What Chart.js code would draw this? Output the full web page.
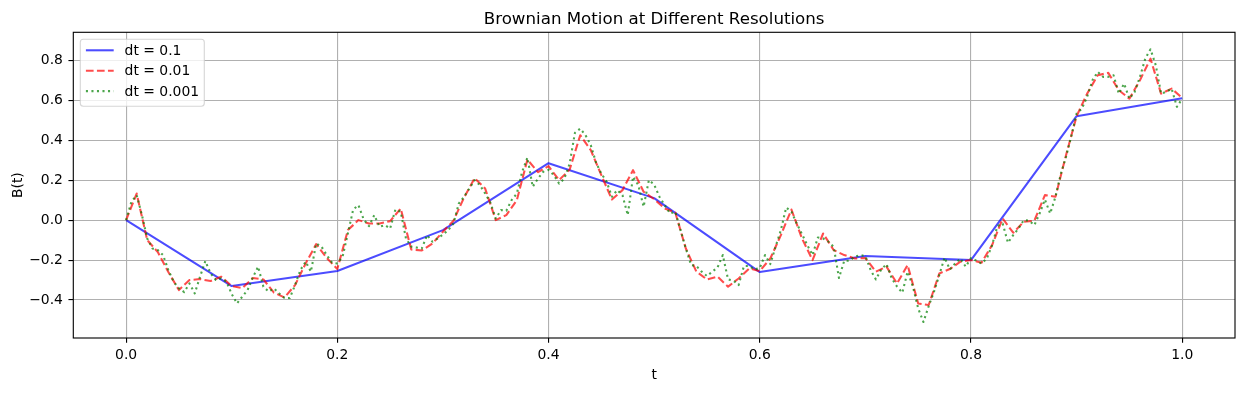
<!DOCTYPE html>
<html><head><meta charset="utf-8">
<script src="https://cdn.jsdelivr.net/npm/chart.js@4.4.1/dist/chart.umd.min.js"></script>
<style>html,body{margin:0;padding:0;background:#fff;}canvas{display:block;}</style>
</head><body>
<canvas id="c" width="1245" height="393"></canvas>
<script>
// ---- text ----
const chartTitle = 'Brownian Motion at Different Resolutions';
const xAxisLabel = 't';
const yAxisLabel = 'B(t)';
const seriesNames = ['dt = 0.1', 'dt = 0.01', 'dt = 0.001'];

// ---- ticks ----
const xTickValues = [0, 0.2, 0.4, 0.6, 0.8, 1.0];
const xTickLabels = ['0.0', '0.2', '0.4', '0.6', '0.8', '1.0'];
const yTickValues = [-0.4, -0.2, 0, 0.2, 0.4, 0.6, 0.8];
const yTickLabels = ['\u22120.4', '\u22120.2', '0.0', '0.2', '0.4', '0.6', '0.8'];
const xRange = [-0.05, 1.05];
const yRange = [-0.59, 0.94];

// ---- series ----
const blueStep = 0.1;
const blueB = [0, -0.33, -0.255, -0.05, 0.285, 0.11, -0.26, -0.18, -0.20, 0.52, 0.61];

const redStep = 0.01;
const redB = [
  0, 0.133, -0.10, -0.16, -0.26, -0.35, -0.30, -0.295, -0.305, -0.283,
  -0.33, -0.34, -0.29, -0.297, -0.363, -0.387, -0.325, -0.217, -0.12, -0.19,
  -0.245, -0.05, 0.0, -0.017, -0.017, -0.005, 0.058, -0.147, -0.152, -0.117,
  -0.058, -0.003, 0.113, 0.21, 0.158, 0.0, 0.025, 0.10, 0.303, 0.24,
  0.27, 0.20, 0.253, 0.425, 0.35, 0.225, 0.103, 0.15, 0.25, 0.142,
  0.105, 0.058, 0.038, -0.142, -0.258, -0.297, -0.283, -0.333, -0.292, -0.242,
  -0.255, -0.192, -0.075, 0.053, -0.092, -0.20, -0.067, -0.15, -0.175, -0.192,
  -0.19, -0.258, -0.233, -0.317, -0.225, -0.417, -0.425, -0.267, -0.245, -0.208,
  -0.20, -0.213, -0.125, 0.008, -0.063, -0.008, -0.003, 0.125, 0.117, 0.325,
  0.52, 0.633, 0.725, 0.737, 0.65, 0.608, 0.70, 0.808, 0.633, 0.658,
  0.612
];

// fine series, every 0.005 in t
const greenReadStep = 0.005;
const greenB = [
  0, 0.092, 0.125, 0.025, -0.092, -0.142, -0.15, -0.175, -0.25, -0.308, -0.342, -0.36, -0.317, -0.367, -0.283, -0.205, -0.267, -0.30, -0.292, -0.308,
  -0.37, -0.417, -0.383, -0.35, -0.287, -0.233, -0.333, -0.358, -0.342, -0.367, -0.39, -0.39, -0.325, -0.25, -0.208, -0.258, -0.117, -0.133, -0.175, -0.213,
  -0.217, -0.183, -0.067, 0.053, 0.075, 0.003, -0.03, 0.025, -0.033, -0.025, -0.042, 0.053, 0.042, -0.092, -0.133, -0.137, -0.142, -0.075, -0.108, -0.092,
  -0.072, -0.05, -0.017, 0.083, 0.117, 0.158, 0.2, 0.175, 0.133, 0.087, 0.008, 0.05, 0.047, 0.1, 0.133, 0.242, 0.313, 0.167, 0.208, 0.242,
  0.252, 0.225, 0.183, 0.208, 0.283, 0.437, 0.458, 0.425, 0.375, 0.287, 0.233, 0.192, 0.117, 0.15, 0.125, 0.025, 0.217, 0.175, 0.067, 0.2,
  0.178, 0.117, 0.075, 0.033, 0.042, -0.05, -0.142, -0.225, -0.23, -0.258, -0.28, -0.258, -0.237, -0.175, -0.297, -0.303, -0.325, -0.23, -0.23, -0.247,
  -0.24, -0.175, -0.22, -0.133, -0.05, 0.063, 0.042, -0.017, -0.07, -0.125, -0.175, -0.087, -0.092, -0.108, -0.133, -0.29, -0.203, -0.203, -0.183, -0.175,
  -0.18, -0.25, -0.297, -0.247, -0.22, -0.292, -0.333, -0.363, -0.258, -0.333, -0.442, -0.51, -0.43, -0.358, -0.275, -0.187, -0.247, -0.217, -0.192, -0.233,
  -0.19, -0.203, -0.217, -0.192, -0.125, -0.03, -0.017, -0.113, -0.075, -0.042, 0.0, -0.003, -0.025, 0.033, 0.103, 0.033, 0.117, 0.23, 0.317, 0.42,
  0.533, 0.558, 0.617, 0.70, 0.742, 0.717, 0.717, 0.725, 0.633, 0.683, 0.608, 0.642, 0.717, 0.808, 0.855, 0.775, 0.633, 0.642, 0.658, 0.567,
  0.608
];

// ---- styles ----
const seriesColors = ['rgba(0,0,255,0.7)', 'rgba(255,0,0,0.7)', 'rgba(0,128,0,0.7)'];
const LW = 2.08;
const seriesDashes = [[], [7.7, 3.33], [2.08, 3.44]];
const FONT = 'DejaVu Sans';
const FS = 13.9;

const toPts = (arr, step) => arr.map((b, i) => ({x: +(i * step).toFixed(4), y: b}));
const seriesData = [toPts(blueB, blueStep), toPts(redB, redStep), toPts(greenB, greenReadStep)];

const overlay = {
  id: 'overlay',
  afterDatasetsDraw(chart) {
    const {ctx, chartArea: a} = chart;
    ctx.save();
    // spines
    ctx.strokeStyle = '#000';
    ctx.lineWidth = 1.11;
    ctx.strokeRect(a.left, a.top, a.right - a.left, a.bottom - a.top);
    // legend
    const lx = a.left + 7, ly = a.top + 7, lw = 124, lh = 67;
    ctx.beginPath();
    ctx.roundRect(lx, ly, lw, lh, 3);
    ctx.fillStyle = 'rgba(255,255,255,0.8)';
    ctx.fill();
    ctx.strokeStyle = 'rgba(204,204,204,0.8)';
    ctx.lineWidth = 1.11;
    ctx.stroke();
    ctx.font = FS + 'px "' + FONT + '"';
    ctx.textBaseline = 'middle';
    ctx.textAlign = 'left';
    seriesNames.forEach((name, i) => {
      const cy = ly + 11 + i * 20.4;
      ctx.beginPath();
      ctx.setLineDash(seriesDashes[i]);
      ctx.strokeStyle = seriesColors[i];
      ctx.lineWidth = LW;
      ctx.moveTo(lx + 5.6, cy);
      ctx.lineTo(lx + 33.4, cy);
      ctx.stroke();
      ctx.setLineDash([]);
      ctx.fillStyle = '#000';
      ctx.fillText(name, lx + 44.3, cy + 1);
    });
    ctx.restore();
  },
  afterDraw(chart) {
    const {ctx, chartArea: a} = chart;
    ctx.save();
    ctx.fillStyle = '#000';
    ctx.textAlign = 'center';
    ctx.font = '16.67px "' + FONT + '"';
    ctx.textBaseline = 'alphabetic';
    ctx.fillText(chartTitle, (a.left + a.right) / 2, a.top - 8.3);
    ctx.font = FS + 'px "' + FONT + '"';
    ctx.textBaseline = 'top';
    ctx.fillText(xAxisLabel, (a.left + a.right) / 2, 368);
    ctx.translate(18, (a.top + a.bottom) / 2);
    ctx.rotate(-Math.PI / 2);
    ctx.textBaseline = 'middle';
    ctx.fillText(yAxisLabel, 0, 0);
    ctx.restore();
  }
};

Chart.defaults.font.family = FONT;
Chart.defaults.font.size = FS;
Chart.defaults.color = '#000';

const gridOpts = {color: '#b0b0b0', lineWidth: 1.11, tickColor: '#000', tickLength: 4.86, tickWidth: 1.11};

new Chart(document.getElementById('c'), {
  type: 'line',
  data: {
    datasets: seriesData.map((d, i) => ({
      label: seriesNames[i],
      data: d,
      borderColor: seriesColors[i],
      borderWidth: LW,
      borderDash: seriesDashes[i],
      borderCapStyle: 'butt',
      borderJoinStyle: 'round',
      pointRadius: 0,
      tension: 0,
      fill: false,
      order: 3 - i
    }))
  },
  options: {
    responsive: false,
    devicePixelRatio: 1,
    animation: false,
    layout: {padding: {left: 0, top: 32.3, right: 10, bottom: 0}},
    plugins: {legend: {display: false}, title: {display: false}, tooltip: {enabled: false}},
    scales: {
      x: {
        type: 'linear',
        min: xRange[0], max: xRange[1],
        afterBuildTicks: (ax) => { ax.ticks = xTickValues.map(v => ({value: v})); },
        afterFit: (ax) => { ax.height = 55; },
        ticks: {
          autoSkip: false, maxRotation: 0, padding: 4,
          callback: (v, i) => xTickLabels[i]
        },
        grid: gridOpts,
        border: {display: false}
      },
      y: {
        type: 'linear',
        min: yRange[0], max: yRange[1],
        afterBuildTicks: (ax) => { ax.ticks = yTickValues.map(v => ({value: v})); },
        afterFit: (ax) => { ax.width = 73.3; },
        ticks: {
          autoSkip: false, padding: 5.5,
          callback: (v, i) => yTickLabels[i]
        },
        grid: gridOpts,
        border: {display: false}
      }
    }
  },
  plugins: [overlay]
});
</script>
</body></html>
